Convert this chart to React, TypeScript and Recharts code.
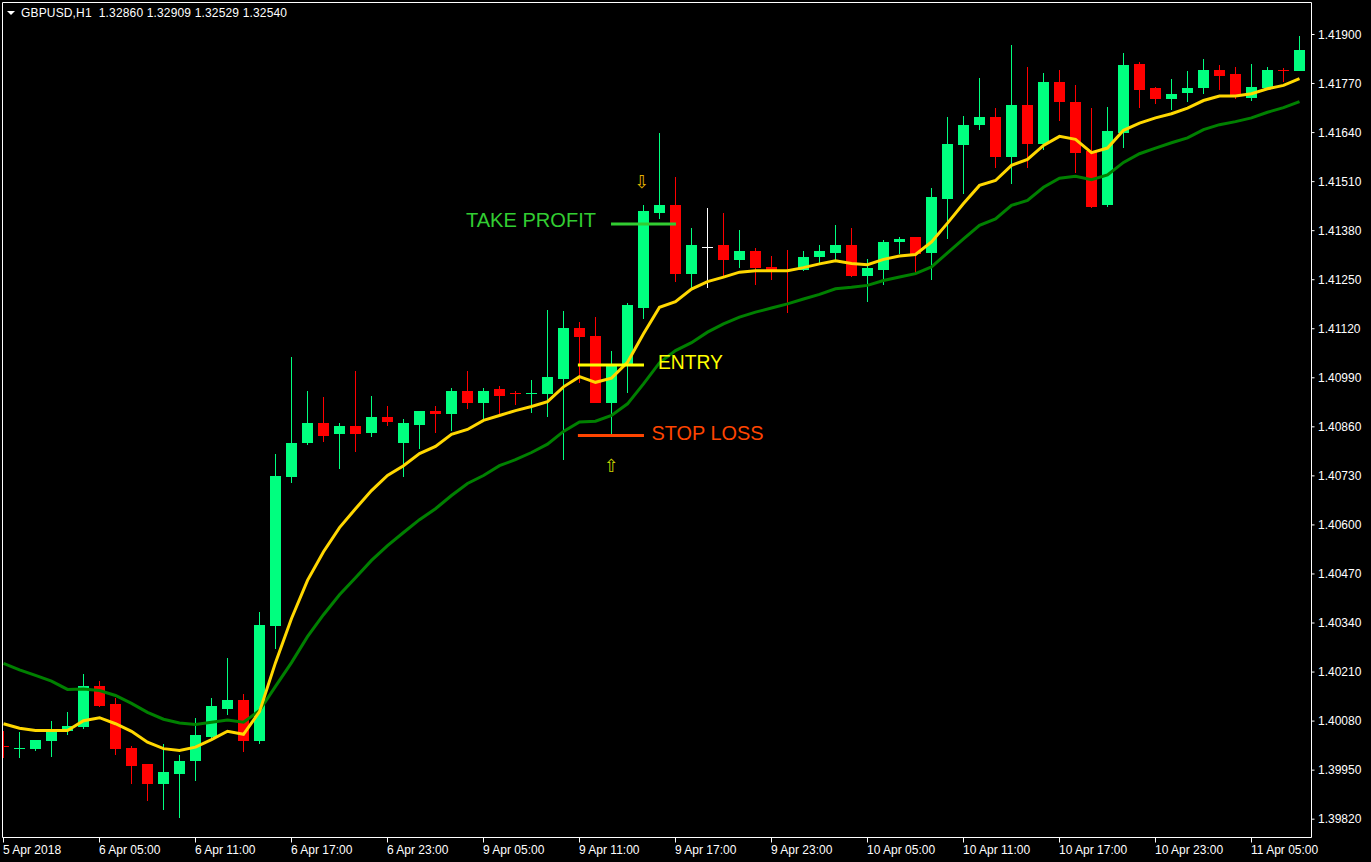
import React from "react";
import { ComposedChart, Bar, Line, XAxis, YAxis, ReferenceLine, ReferenceDot } from "recharts";

// ---------- data ----------
const timeTickIndex = [0, 6, 12, 18, 24, 30, 36, 42, 48, 54, 60, 66, 72, 78];
const timeTickLabels = [
  "5 Apr 2018", "6 Apr 05:00", "6 Apr 11:00", "6 Apr 17:00", "6 Apr 23:00",
  "9 Apr 05:00", "9 Apr 11:00", "9 Apr 17:00", "9 Apr 23:00", "10 Apr 05:00",
  "10 Apr 11:00", "10 Apr 17:00", "10 Apr 23:00", "11 Apr 05:00",
];
const priceTicks = [
  1.3982, 1.3995, 1.4008, 1.4021, 1.4034, 1.4047, 1.406, 1.4073, 1.4086,
  1.4099, 1.4112, 1.4125, 1.4138, 1.4151, 1.4164, 1.4177, 1.419,
];

const opens = [
  1.40015, 1.40008, 1.40005, 1.40028, 1.40053, 1.40064, 1.40174, 1.40126, 1.40010, 1.39965,
  1.39912, 1.39941, 1.39973, 1.40039, 1.40113, 1.40137, 1.40028, 1.40333, 1.40728, 1.40816,
  1.40871, 1.40840, 1.40863, 1.40845, 1.40887, 1.40816, 1.40866, 1.40901, 1.40895, 1.40956,
  1.40924, 1.40959, 1.40951, 1.40946, 1.40946, 1.40988, 1.41121, 1.41102, 1.40924, 1.41025,
  1.41174, 1.41428, 1.41447, 1.41266, 1.41337, 1.41341, 1.41301, 1.41327, 1.41285, 1.41277,
  1.41277, 1.41309, 1.41322, 1.41343, 1.41261, 1.41277, 1.41349, 1.41362, 1.41322, 1.41463,
  1.41606, 1.41659, 1.41680, 1.41574, 1.41712, 1.41611, 1.41773, 1.41722, 1.41590, 1.41447,
  1.41640, 1.41823, 1.41757, 1.41730, 1.41744, 1.41757, 1.41807, 1.41794, 1.41733, 1.41759,
  1.41807, 1.41802,
];
const highs = [
  1.40055, 1.40050, 1.40031, 1.40079, 1.40105, 1.40206, 1.40187, 1.40140, 1.40015, 1.39967,
  1.40018, 1.39989, 1.40089, 1.40142, 1.40246, 1.40153, 1.40370, 1.40787, 1.41046, 1.40954,
  1.40938, 1.40871, 1.41009, 1.40943, 1.40916, 1.40882, 1.40903, 1.40914, 1.40962, 1.41009,
  1.40962, 1.40969, 1.40956, 1.40985, 1.41171, 1.41166, 1.41137, 1.41150, 1.41060, 1.41187,
  1.41447, 1.41640, 1.41521, 1.41386, 1.41439, 1.41428, 1.41383, 1.41335, 1.41314, 1.41330,
  1.41327, 1.41343, 1.41396, 1.41386, 1.41304, 1.41354, 1.41364, 1.41364, 1.41492, 1.41680,
  1.41683, 1.41786, 1.41704, 1.41871, 1.41815, 1.41797, 1.41805, 1.41767, 1.41706, 1.41709,
  1.41852, 1.41826, 1.41762, 1.41781, 1.41802, 1.41834, 1.41820, 1.41815, 1.41823, 1.41815,
  1.41810, 1.41897,
];
const lows = [
  1.39983, 1.39983, 1.40002, 1.39986, 1.40042, 1.40058, 1.40118, 1.39991, 1.39914, 1.39869,
  1.39845, 1.39824, 1.39922, 1.40036, 1.40097, 1.39999, 1.40020, 1.40272, 1.40710, 1.40813,
  1.40821, 1.40747, 1.40792, 1.40832, 1.40861, 1.40726, 1.40800, 1.40845, 1.40850, 1.40906,
  1.40879, 1.40895, 1.40919, 1.40898, 1.40885, 1.40773, 1.40975, 1.40922, 1.40840, 1.40951,
  1.41147, 1.41412, 1.41245, 1.41227, 1.41229, 1.41261, 1.41280, 1.41235, 1.41250, 1.41163,
  1.41272, 1.41288, 1.41298, 1.41256, 1.41192, 1.41235, 1.41317, 1.41269, 1.41248, 1.41357,
  1.41478, 1.41648, 1.41547, 1.41505, 1.41545, 1.41595, 1.41672, 1.41532, 1.41439, 1.41444,
  1.41600, 1.41704, 1.41717, 1.41699, 1.41720, 1.41741, 1.41752, 1.41728, 1.41725, 1.41759,
  1.41775, 1.41802,
];
const closes = [
  1.40012, 1.40010, 1.40031, 1.40053, 1.40066, 1.40172, 1.40121, 1.40005, 1.39962, 1.39912,
  1.39946, 1.39975, 1.40042, 1.40119, 1.40137, 1.40026, 1.40336, 1.40731, 1.40816, 1.40871,
  1.40837, 1.40863, 1.40842, 1.40887, 1.40874, 1.40869, 1.40901, 1.40893, 1.40956, 1.40924,
  1.40956, 1.40943, 1.40946, 1.40951, 1.40991, 1.41121, 1.41099, 1.40922, 1.41020, 1.41182,
  1.41431, 1.41447, 1.41264, 1.41343, 1.41337, 1.41301, 1.41327, 1.41282, 1.41274, 1.41273,
  1.41311, 1.41325, 1.41343, 1.41261, 1.41280, 1.41351, 1.41359, 1.41319, 1.41468, 1.41611,
  1.41661, 1.41680, 1.41574, 1.41714, 1.41611, 1.41773, 1.41720, 1.41587, 1.41444, 1.41643,
  1.41820, 1.41754, 1.41730, 1.41741, 1.41759, 1.41807, 1.41791, 1.41738, 1.41762, 1.41807,
  1.41802, 1.41860,
];
const fastMA = [
  1.40073, 1.40061, 1.40055, 1.40055, 1.40055, 1.40081, 1.40089, 1.40073, 1.40053, 1.40024,
  1.40007, 1.40002, 1.40011, 1.40031, 1.40053, 1.40045, 1.40105, 1.40235, 1.40352, 1.40453,
  1.40529, 1.40593, 1.40643, 1.40691, 1.40731, 1.40757, 1.40789, 1.40808, 1.40840, 1.40853,
  1.40877, 1.40890, 1.40903, 1.40914, 1.40927, 1.40966, 1.40993, 1.40978, 1.40989, 1.41031,
  1.41107, 1.41177, 1.41192, 1.41225, 1.41245, 1.41257, 1.41270, 1.41274, 1.41274, 1.41274,
  1.41282, 1.41292, 1.41300, 1.41293, 1.41290, 1.41304, 1.41313, 1.41317, 1.41350, 1.41400,
  1.41452, 1.41500, 1.41513, 1.41553, 1.41569, 1.41606, 1.41630, 1.41622, 1.41587, 1.41599,
  1.41646, 1.41665, 1.41679, 1.41690, 1.41705, 1.41725, 1.41737, 1.41737, 1.41743, 1.41756,
  1.41765, 1.41783,
];
const slowMA = [
  1.40233, 1.40216, 1.40201, 1.40186, 1.40164, 1.40165, 1.40161, 1.40148, 1.40127, 1.40103,
  1.40085, 1.40075, 1.40071, 1.40077, 1.40083, 1.40077, 1.40108, 1.40172, 1.40235, 1.40304,
  1.40362, 1.40415, 1.40460, 1.40506, 1.40545, 1.40580, 1.40614, 1.40643, 1.40678, 1.40710,
  1.40731, 1.40757, 1.40773, 1.40792, 1.40814, 1.40848, 1.40873, 1.40875, 1.40890, 1.40921,
  1.40974, 1.41030, 1.41062, 1.41083, 1.41111, 1.41133, 1.41151, 1.41164, 1.41175, 1.41186,
  1.41199, 1.41211, 1.41226, 1.41230, 1.41235, 1.41248, 1.41257, 1.41266, 1.41284, 1.41321,
  1.41358, 1.41394, 1.41411, 1.41447, 1.41460, 1.41495, 1.41519, 1.41524, 1.41515, 1.41528,
  1.41561, 1.41584, 1.41599, 1.41613, 1.41626, 1.41648, 1.41661, 1.41669, 1.41679, 1.41694,
  1.41706, 1.41722,
];

// trade annotation levels (price) and bar positions
const takeProfit = { price: 1.41398, from: 37.97, to: 42.03 };
const entry = { price: 1.41024, from: 35.9, to: 40.03 };
const stopLoss = { price: 1.40837, from: 35.9, to: 40.03 };
const labelTP = { x: 28.906, price: 1.41390 };
const labelEntry = { x: 40.906, price: 1.41012 };
const labelSL = { x: 40.5, price: 1.40825 };
const arrowDown = { x: 39.91, price: 1.41509 };
const arrowUp = { x: 38.0, price: 1.40756 };

// ---------- styling ----------
const W = 1371;
const H = 862;
const BULL = "#00FF7F";
const BEAR = "#FF0000";
const DOJI = "#FFFFFF";
const X_DOMAIN: [number, number] = [-0.0625, 81.75];
const Y_DOMAIN: [number, number] = [1.3977144, 1.4198483];
const FONT = "'Liberation Sans', Arial, sans-serif";

const rows = opens.map((o, i) => ({
  i,
  open: o,
  high: highs[i],
  low: lows[i],
  close: closes[i],
  fast: fastMA[i],
  slow: slowMA[i],
}));

function Candle(props: any) {
  const { x, y, width, height, payload } = props;
  if (x == null || y == null || !payload) return null;
  const { open, high, low, close } = payload;
  const top = Math.min(y, y + height);
  const bottom = Math.max(y, y + height);
  const span = high - low;
  const py = (p: number) => (span > 0 ? top + ((high - p) / span) * (bottom - top) : top);
  const color = close > open ? BULL : close < open ? BEAR : DOJI;
  const cx = Math.round(x + width / 2 - 0.5) + 0.5;
  const bt = Math.round(py(Math.max(open, close)));
  const bb = Math.max(Math.round(py(Math.min(open, close))), bt + 1);
  const wt = Math.round(top);
  const wb = Math.max(Math.round(bottom), wt + 1);
  return (
    <g shapeRendering="crispEdges">
      <rect x={cx - 0.5} y={wt} width={1} height={wb - wt} fill={color} />
      <rect x={cx - 5.5} y={bt} width={11} height={bb - bt} fill={color} />
    </g>
  );
}

function TimeTick(props: any) {
  const { x, payload } = props;
  const idx = timeTickIndex.indexOf(payload.value);
  const label = idx >= 0 ? timeTickLabels[idx] : "";
  return (
    <text x={x - 0.5} y={854} fill="#FFFFFF" fontSize={12} fontFamily={FONT} textAnchor="start">
      {label}
    </text>
  );
}

function PriceTick(props: any) {
  const { y, payload } = props;
  return (
    <text x={1318} y={y} dy="0.355em" fill="#FFFFFF" fontSize={12} fontFamily={FONT} textAnchor="start">
      {Number(payload.value).toFixed(5)}
    </text>
  );
}

const textShape = (label: string, color: string, len: number) => (p: any) => (
  <text
    x={p.cx}
    y={p.cy}
    fill={color}
    fontSize={21}
    fontFamily={FONT}
    textAnchor="start"
    textLength={len}
    lengthAdjust="spacingAndGlyphs"
  >
    {label}
  </text>
);

const arrowShape = (glyph: string, color: string) => (p: any) => (
  <text
    x={p.cx}
    y={p.cy}
    dy="0.35em"
    fill={color}
    fontSize={18}
    fontFamily="'DejaVu Sans', sans-serif"
    textAnchor="middle"
  >
    {glyph}
  </text>
);

export default function App() {
  return (
    <div
      style={{
        position: "fixed",
        left: 0,
        top: 0,
        width: W,
        height: H,
        background: "#000000",
        overflow: "hidden",
        fontFamily: FONT,
      }}
    >
      <ComposedChart
        width={W}
        height={H}
        data={rows}
        margin={{ top: 2.5, right: 0, bottom: 0, left: 2.5 }}
      >
        <XAxis
          dataKey="i"
          type="number"
          domain={X_DOMAIN}
          allowDataOverflow
          ticks={timeTickIndex}
          interval={0}
          height={24.5}
          tickSize={5}
          stroke="#FFFFFF"
          axisLine={{ stroke: "#FFFFFF" }}
          tickLine={{ stroke: "#FFFFFF" }}
          tick={<TimeTick />}
        />
        <YAxis
          orientation="right"
          type="number"
          domain={Y_DOMAIN}
          allowDataOverflow
          ticks={priceTicks}
          interval={0}
          width={59.5}
          tickSize={3}
          stroke="#FFFFFF"
          axisLine={{ stroke: "#FFFFFF" }}
          tickLine={{ stroke: "#FFFFFF" }}
          tick={<PriceTick />}
        />
        <ReferenceLine x={X_DOMAIN[0]} stroke="#FFFFFF" strokeWidth={1} />
        <ReferenceLine y={Y_DOMAIN[1]} stroke="#FFFFFF" strokeWidth={1} />

        <Bar
          dataKey={(d: any) => [d.low, d.high]}
          barSize={11}
          shape={<Candle />}
          isAnimationActive={false}
        />
        <Line
          type="linear"
          dataKey="slow"
          stroke="#008000"
          strokeWidth={3}
          dot={false}
          activeDot={false}
          isAnimationActive={false}
        />
        <Line
          type="linear"
          dataKey="fast"
          stroke="#FFD700"
          strokeWidth={3}
          dot={false}
          activeDot={false}
          isAnimationActive={false}
        />

        <ReferenceLine
          segment={[{ x: takeProfit.from, y: takeProfit.price }, { x: takeProfit.to, y: takeProfit.price }]}
          stroke="#32CD32"
          strokeWidth={3}
        />
        <ReferenceLine
          segment={[{ x: entry.from, y: entry.price }, { x: entry.to, y: entry.price }]}
          stroke="#FFFF00"
          strokeWidth={3}
        />
        <ReferenceLine
          segment={[{ x: stopLoss.from, y: stopLoss.price }, { x: stopLoss.to, y: stopLoss.price }]}
          stroke="#FF4500"
          strokeWidth={3}
        />
        <ReferenceDot x={labelTP.x} y={labelTP.price} r={0} shape={textShape("TAKE PROFIT", "#32CD32", 130)} />
        <ReferenceDot x={labelEntry.x} y={labelEntry.price} r={0} shape={textShape("ENTRY", "#FFFF00", 65)} />
        <ReferenceDot x={labelSL.x} y={labelSL.price} r={0} shape={textShape("STOP LOSS", "#FF4500", 112)} />
        <ReferenceDot x={arrowDown.x} y={arrowDown.price} r={0} shape={arrowShape("\u21E9", "#E0B000")} />
        <ReferenceDot x={arrowUp.x} y={arrowUp.price} r={0} shape={arrowShape("\u21E7", "#C8D000")} />
      </ComposedChart>
      <svg
        width={300}
        height={24}
        style={{ position: "absolute", left: 0, top: 0, pointerEvents: "none" }}
      >
        <polygon points="7,11 15,11 11,15" fill="#FFFFFF" />
        <text x={21} y={16.7} fill="#FFFFFF" fontSize={12} fontFamily={FONT} textLength={266} lengthAdjust="spacing">
          GBPUSD,H1{"\u00A0\u00A0"}1.32860 1.32909 1.32529 1.32540
        </text>
      </svg>
    </div>
  );
}
